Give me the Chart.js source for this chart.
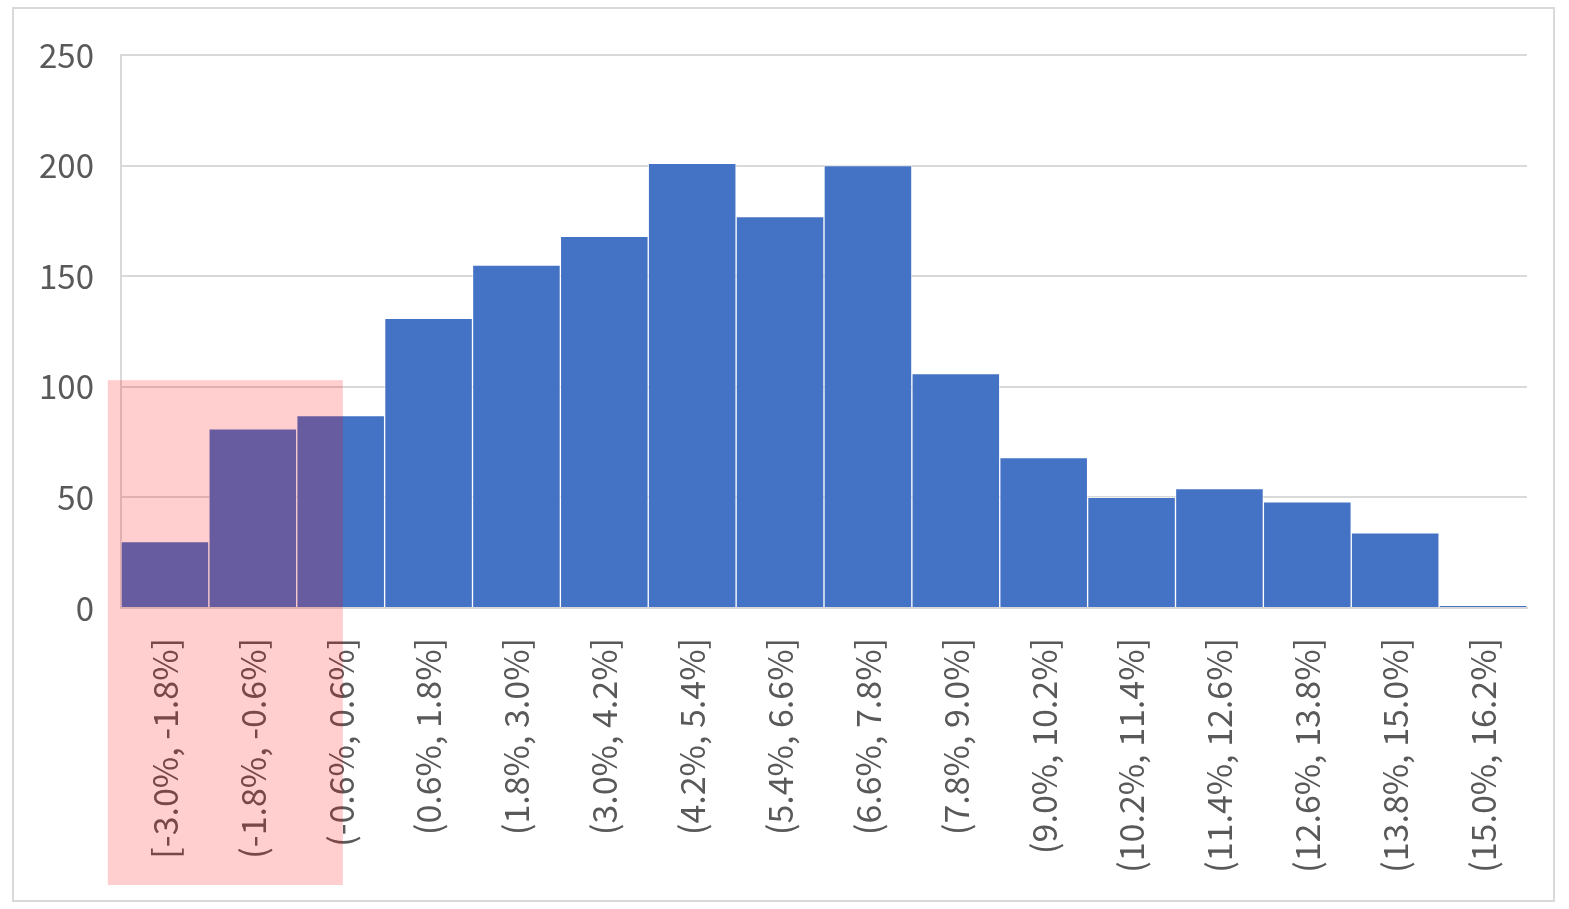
<!DOCTYPE html>
<html lang="en">
<head>
    <meta charset="UTF-8">
    <title>Return distribution</title>
    <style>
        body { margin: 0; background: #fff; font-family: "Noto Sans CJK JP", "Noto Sans", sans-serif; }
        .wrap { position: relative; width: 1569px; height: 909px; }
        .frame { position: absolute; left: 12px; top: 7px; width: 1539px; height: 891px; border: 2px solid #d9d9d9; }
        #chart { position: absolute; left: 0; top: 0; }
    </style>
    <script src="https://cdn.jsdelivr.net/npm/chart.js"></script>
</head>
<body>
    <div class="wrap">
        <div class="frame"></div>
        <canvas id="chart" width="1569" height="909"></canvas>
    </div>

    <script>
        // bins of returns, 1.2% wide
        const binLabels = [
            '[-3.0%, -1.8%]', '(-1.8%, -0.6%]', '(-0.6%, 0.6%]', '(0.6%, 1.8%]',
            '(1.8%, 3.0%]', '(3.0%, 4.2%]', '(4.2%, 5.4%]', '(5.4%, 6.6%]',
            '(6.6%, 7.8%]', '(7.8%, 9.0%]', '(9.0%, 10.2%]', '(10.2%, 11.4%]',
            '(11.4%, 12.6%]', '(12.6%, 13.8%]', '(13.8%, 15.0%]', '(15.0%, 16.2%]'
        ];
        const counts = [30, 81, 87, 131, 155, 168, 201, 177, 200, 106, 68, 50, 54, 48, 34, 1];
        const yTicks = [0, 50, 100, 150, 200, 250];

        // shaded area (negative side), in % of return and count
        const binStart = -3.0;
        const binWidth = 1.2;
        const shadeFrom = -3.18;
        const shadeTo = 0.03;
        const shadeTop = 103;

        const textColor = '#595959';
        const gridColor = '#d9d9d9';

        // pink box drawn over everything
        const shadePlugin = {
            id: 'shade',
            afterDraw(chart) {
                const x = chart.scales.x, y = chart.scales.y;
                const toIdx = v => (v - binStart) / binWidth - 0.5;
                const x0 = x.getPixelForValue(toIdx(shadeFrom));
                const x1 = x.getPixelForValue(toIdx(shadeTo));
                const y0 = y.getPixelForValue(shadeTop);
                const y1 = chart.height - 24;
                const ctx = chart.ctx;
                ctx.save();
                ctx.fillStyle = 'rgba(255, 0, 0, 0.19)';
                ctx.fillRect(x0, y0, x1 - x0, y1 - y0);
                ctx.restore();
            }
        };

        new Chart(document.getElementById('chart'), {
            type: 'bar',
            data: {
                labels: binLabels,
                datasets: [{
                    data: counts,
                    backgroundColor: '#4472c4',
                    borderColor: 'rgba(255, 255, 255, 0.55)',
                    borderWidth: 1,
                    categoryPercentage: 1.0,
                    barPercentage: 1.0
                }]
            },
            options: {
                responsive: false,
                animation: false,
                devicePixelRatio: 1,
                layout: { padding: { left: 0, top: 55, right: 42, bottom: 0 } },
                plugins: {
                    legend: { display: false },
                    tooltip: { enabled: false }
                },
                scales: {
                    x: {
                        grid: { display: false, drawTicks: false },
                        border: { display: true, color: gridColor, width: 2 },
                        ticks: {
                            color: textColor,
                            font: { family: '"Noto Sans CJK JP"', size: 34 },
                            minRotation: 90,
                            maxRotation: 90,
                            padding: 30,
                            autoSkip: false
                        },
                        afterFit(scale) { scale.height = 301; }
                    },
                    y: {
                        min: 0,
                        max: 250,
                        afterBuildTicks(scale) { scale.ticks = yTicks.map(v => ({ value: v })); },
                        grid: { color: gridColor, lineWidth: 2, drawTicks: false },
                        border: { display: true, color: gridColor, width: 2 },
                        ticks: {
                            color: textColor,
                            font: { family: '"Noto Sans CJK JP"', size: 33 },
                            padding: 27
                        },
                        afterFit(scale) { scale.width = 121; }
                    }
                }
            },
            plugins: [shadePlugin]
        });
    </script>
</body>
</html>
